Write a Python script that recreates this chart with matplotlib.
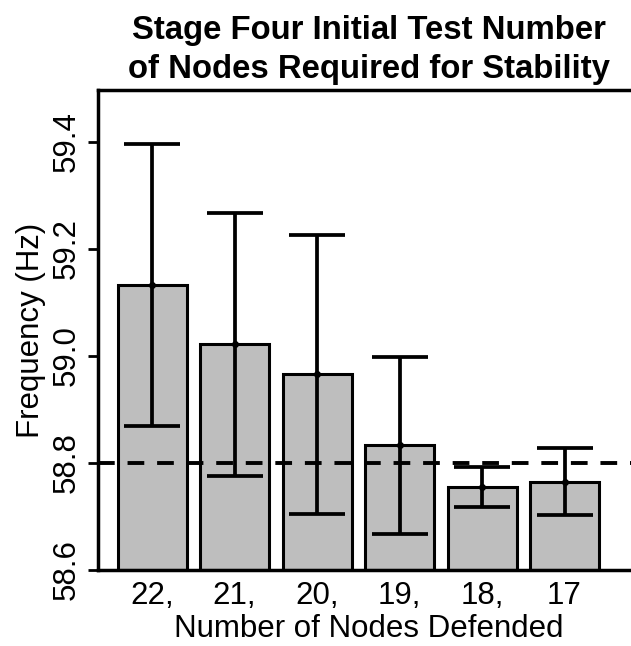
import numpy as np
import matplotlib
matplotlib.use("Agg")
import matplotlib.pyplot as plt

plt.rcParams['font.family'] = ['Liberation Sans', 'DejaVu Sans']

# mean frequency per number of defended nodes, with error half-widths
labels = ["22,", "21,", "20,", "19,", "18,", "17"]
means = [59.133, 59.022, 58.966, 58.833, 58.755, 58.765]
errors = [0.264, 0.246, 0.261, 0.166, 0.038, 0.063]
threshold = 58.8

fig = plt.figure(figsize=(6.31, 6.46), dpi=100)
ax = fig.add_axes([0.1553, 0.1176, 0.859, 0.743])

x = np.arange(len(labels))
base = 58.6
ax.bar(x, np.array(means) - base, bottom=base, width=0.836,
       color='#bebebe', edgecolor='black', linewidth=2.2, zorder=2)
# threshold line drawn over the bars
ax.axhline(threshold, color='black', linestyle=(0, (4.3, 3.3)), linewidth=2.8, zorder=3)
ax.errorbar(x, means, yerr=errors, fmt='o', color='black', markersize=4,
            elinewidth=2.7, capsize=20.5, capthick=2.7, zorder=4)

ax.set_xlim(-0.655, 5.915)
ax.set_ylim(58.6, 59.497)
ax.set_xticks(x)
ax.set_xticklabels(labels)
ax.set_yticks([58.6, 58.8, 59.0, 59.2, 59.4])
ax.set_yticklabels(['58.6', '58.8', '59.0', '59.2', '59.4'], rotation=90, va='center')
ax.tick_params(axis='x', length=0, labelsize=22.5, pad=8)
ax.tick_params(axis='y', length=7, width=2, labelsize=22.5, pad=5)

for s in ax.spines.values():
    s.set_linewidth(2.5)
ax.spines['right'].set_visible(False)

ax.set_xlabel('Number of Nodes Defended', fontsize=22.5, labelpad=2)
ax.set_ylabel('Frequency (Hz)', fontsize=22.5, labelpad=4)
ax.set_title('Stage Four Initial Test Number\nof Nodes Required for Stability',
             fontsize=23.7, fontweight='bold', linespacing=1.3, pad=9)

fig.savefig('out.png', dpi=100)
